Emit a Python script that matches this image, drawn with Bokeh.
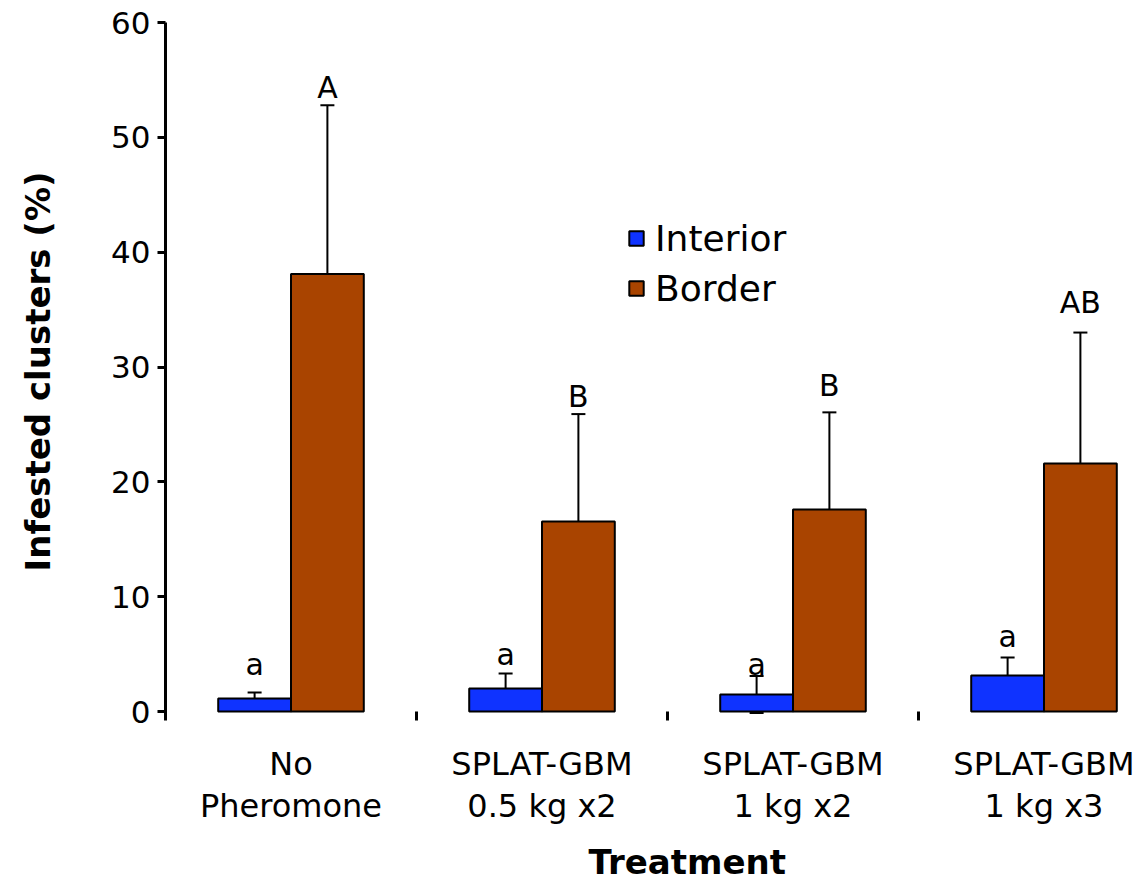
from bokeh.plotting import figure
from bokeh.models import (Range1d, FixedTicker, ColumnDataSource, Whisker, TeeHead,
                          Title, Legend, LegendItem)
from bokeh.core.properties import value
from bokeh.embed import file_html
from bokeh.resources import INLINE

# ---- data ----
treatments = ["No\nPheromone", "SPLAT-GBM\n0.5 kg x2", "SPLAT-GBM\n1 kg x2", "SPLAT-GBM\n1 kg x3"]
interior_mean = [1.13, 2.0, 1.48, 3.14]
interior_se = [0.52, 1.3, 1.62, 1.56]
border_mean = [38.1, 16.55, 17.6, 21.6]
border_se = [14.7, 9.35, 8.45, 11.4]
interior_letters = ["a", "a", "a", "a"]
border_letters = ["A", "B", "B", "AB"]
interior_letter_y = [3.14, 4.05, 3.14, 5.66]
border_letter_y = [53.4, 26.48, 27.44, 34.67]
y_ticks = [0, 10, 20, 30, 40, 50, 60]

FONT = "DejaVu Sans"
BLUE = "#0F33FF"
BROWN = "#A94400"

# layout constants (pixels)
W, H = 1135, 892
LEFT, TOP = 165, 22
GROUP_PX = 251
ZERO_PX = 711
FRAME_BOTTOM = 720
PX_PER_UNIT = (ZERO_PX - TOP) / 60.0
y_start = -(FRAME_BOTTOM - ZERO_PX) / PX_PER_UNIT
x_end = (W - LEFT) / GROUP_PX

n = len(treatments)
centers = [i + 0.5 for i in range(n)]
bw = 0.29
x_int = [c - bw / 2 for c in centers]
x_bor = [c + bw / 2 for c in centers]

src_i = ColumnDataSource(dict(
    x=x_int, top=interior_mean,
    upper=[m + s for m, s in zip(interior_mean, interior_se)],
    lower=[max(m - s, -0.12) for m, s in zip(interior_mean, interior_se)],
    lab=interior_letters, ly=interior_letter_y))
src_b = ColumnDataSource(dict(
    x=x_bor, top=border_mean,
    upper=[m + s for m, s in zip(border_mean, border_se)],
    lower=[m - s for m, s in zip(border_mean, border_se)],
    lab=border_letters, ly=border_letter_y))

p = figure(width=W, height=H, output_backend="svg", toolbar_location=None,
           x_range=Range1d(0, x_end), y_range=Range1d(y_start, 60),
           min_border_left=LEFT, min_border_top=TOP, min_border_right=0,
           min_border_bottom=H - FRAME_BOTTOM)
p.outline_line_color = None
p.xgrid.visible = False
p.ygrid.visible = False
p.background_fill_color = "white"
p.border_fill_color = "white"

# error bars (under the bars)
for src in (src_i, src_b):
    wk = Whisker(source=src, base="x", upper="upper", lower="lower",
                 dimension="height", line_width=2, line_color="black",
                 upper_head=TeeHead(size=14, line_width=2, line_color="black"),
                 lower_head=TeeHead(size=14, line_width=2, line_color="black"),
                 level="underlay")
    p.add_layout(wk)

r_i = p.vbar(x="x", top="top", bottom=0, width=bw, source=src_i,
             fill_color=BLUE, line_color="black", line_width=2)
r_b = p.vbar(x="x", top="top", bottom=0, width=bw, source=src_b,
             fill_color=BROWN, line_color="black", line_width=2)

for src in (src_i, src_b):
    p.text(x="x", y="ly", text="lab", source=src, text_align="center",
           text_baseline="bottom", y_offset=7, text_font=value(FONT),
           text_font_size="30px", text_color="black")

# y axis
ya = p.yaxis[0]
ya.ticker = FixedTicker(ticks=y_ticks)
ya.axis_line_width = 3
ya.major_tick_line_width = 3
ya.major_tick_out = 8
ya.major_tick_in = 0
ya.minor_tick_line_color = None
ya.major_label_text_font = FONT
ya.major_label_text_font_size = "31px"
ya.major_label_text_color = "black"
ya.major_label_standoff = 7
ya.axis_label = "Infested clusters (%)"
ya.axis_label_text_font = FONT
ya.axis_label_text_font_style = "bold"
ya.axis_label_text_font_size = "34px"
ya.axis_label_text_color = "black"
ya.axis_label_standoff = 50

# x axis
xa = p.xaxis[0]
xa.ticker = FixedTicker(ticks=centers, minor_ticks=[1, 2, 3])
xa.major_label_overrides = {c: t for c, t in zip(centers, treatments)}
xa.axis_line_color = None
xa.major_tick_line_color = None
xa.minor_tick_line_color = "black"
xa.minor_tick_line_width = 3
xa.minor_tick_in = 9
xa.minor_tick_out = 0
xa.major_label_text_font = FONT
xa.major_label_text_font_size = "32px"
xa.major_label_text_color = "black"
xa.major_label_text_line_height = 1.12
xa.major_label_standoff = 18

p.add_layout(Title(text="Treatment", align="left", offset=588 - LEFT,
                   text_font=FONT, text_font_style="bold", text_font_size="34px",
                   text_color="black", standoff=22), "below")

legend = Legend(items=[LegendItem(label="Interior", renderers=[r_i]),
                       LegendItem(label="Border", renderers=[r_b])],
                location=(462, 410), glyph_width=18, glyph_height=18,
                label_text_font=FONT, label_text_font_size="36px",
                label_text_color="black",
                label_standoff=10, label_height=44, spacing=6,
                padding=0, margin=0, border_line_color=None,
                background_fill_alpha=0)
p.add_layout(legend)

open("out.html", "w").write(file_html(p, INLINE))
